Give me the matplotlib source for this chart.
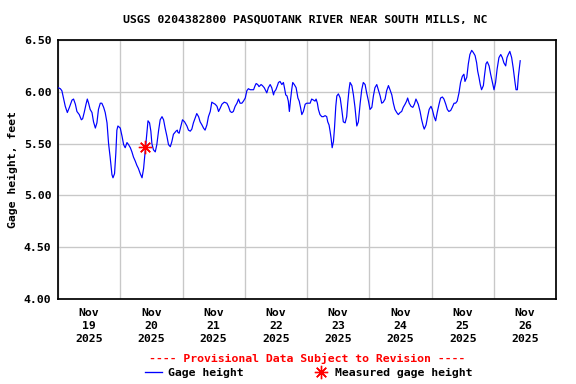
import datetime
import matplotlib
matplotlib.use('Agg')
import matplotlib.pyplot as plt
from matplotlib.lines import Line2D


START = datetime.datetime(2025, 11, 19)
TITLE = 'USGS 0204382800 PASQUOTANK RIVER NEAR SOUTH MILLS, NC'

# hours since Nov 19 00:00, gage height in feet
HOURS = [
    0.0, 0.9, 1.5, 2.2, 2.8, 3.6, 4.4, 5.4, 6.0, 6.7, 7.3, 8.2, 9.0, 9.5, 10.1,
    10.8, 11.3, 11.8, 12.4, 13.1, 13.7, 14.4, 15.0, 15.6, 16.3, 16.9, 17.6,
    18.2, 18.9, 19.5, 20.1, 20.8, 21.2, 21.8, 22.3, 22.7, 23.1, 24.0, 24.7,
    25.3, 25.9, 26.6, 27.2, 27.9, 28.5, 29.1, 29.8, 30.4, 31.0, 31.7, 32.4,
    33.0, 33.6, 34.3, 34.7, 35.3, 35.8, 36.2, 36.8, 37.5, 38.1, 38.8, 39.4,
    40.1, 40.7, 41.3, 42.0, 42.6, 43.3, 43.9, 44.5, 45.5, 46.0, 46.2, 46.7,
    47.5, 48.0, 48.8, 49.7, 50.3, 51.0, 51.6, 52.2, 52.9, 53.5, 54.2, 54.8,
    55.5, 56.1, 56.7, 57.4, 58.0, 58.7, 59.3, 59.9, 60.6, 61.3, 61.9, 62.5,
    63.2, 64.1, 65.1, 65.7, 66.4, 67.0, 67.6, 68.3, 69.0, 69.6, 70.2, 70.9,
    71.5, 72.2, 72.8, 73.4, 74.1, 74.7, 75.4, 76.0, 76.4, 77.0, 77.5, 78.3,
    78.8, 79.5, 80.1, 80.5, 81.1, 81.8, 82.4, 83.1, 83.4, 84.0, 84.6, 85.0,
    85.6, 86.3, 86.9, 87.3, 87.8, 88.3, 88.8, 89.2, 89.6, 90.1, 90.5, 91.1,
    91.8, 92.5, 93.0, 93.5, 94.0, 94.6, 95.3, 95.9, 96.5, 97.2, 97.8, 98.5,
    99.1, 99.5, 100.0, 100.4, 101.0, 101.7, 102.3, 103.0, 103.6, 104.0, 104.5,
    104.9, 105.3, 105.7, 106.2, 106.6, 107.1, 107.5, 108.1, 108.8, 109.4,
    110.0, 110.7, 111.3, 111.7, 112.2, 112.6, 113.3, 113.9, 114.5, 115.2,
    115.8, 116.5, 117.1, 117.7, 118.4, 119.0, 119.7, 120.3, 121.0, 121.6,
    122.2, 122.9, 123.5, 124.2, 124.8, 125.4, 126.1, 126.7, 127.4, 128.0,
    128.7, 129.3, 129.9, 130.6, 131.2, 131.9, 132.5, 133.1, 133.8, 134.4,
    134.8, 135.4, 136.1, 136.8, 137.4, 138.0, 138.9, 139.6, 140.2, 140.8,
    141.2, 141.9, 142.5, 143.1, 143.8, 144.3, 145.0, 145.6, 146.2, 146.9,
    147.5, 148.2, 148.8, 149.5, 150.1, 150.7, 151.4, 152.0, 152.7, 153.3,
    153.9, 154.6, 155.2, 155.9, 156.5, 156.9, 157.6, 158.2, 158.8, 159.5,
    160.1, 160.8, 161.4, 161.8, 162.3, 162.8, 163.3, 164.0, 164.4, 165.0,
    165.5, 166.2, 166.8, 167.4, 168.1, 168.7, 169.3, 170.0, 170.7, 171.3,
    171.9, 172.6, 173.1, 173.6, 174.2, 174.9, 175.5, 176.2, 176.6, 177.1,
    177.5, 178.2,
]
GAGE_FT = [
    6.04, 6.03, 6.01, 5.93, 5.86, 5.80, 5.85, 5.92, 5.93, 5.88, 5.81, 5.78,
    5.73, 5.74, 5.80, 5.88, 5.93, 5.89, 5.83, 5.80, 5.71, 5.65, 5.70, 5.83,
    5.89, 5.89, 5.85, 5.80, 5.70, 5.50, 5.37, 5.20, 5.17, 5.21, 5.41, 5.63,
    5.67, 5.65, 5.57, 5.49, 5.46, 5.51, 5.49, 5.46, 5.42, 5.37, 5.33, 5.29,
    5.26, 5.21, 5.17, 5.26, 5.42, 5.60, 5.72, 5.70, 5.62, 5.50, 5.44, 5.42,
    5.49, 5.63, 5.73, 5.76, 5.73, 5.65, 5.57, 5.49, 5.47, 5.52, 5.59, 5.62,
    5.63, 5.61, 5.60, 5.68, 5.73, 5.71, 5.67, 5.63, 5.62, 5.64, 5.70, 5.75,
    5.79, 5.76, 5.71, 5.68, 5.65, 5.63, 5.68, 5.76, 5.81, 5.90, 5.89, 5.88,
    5.86, 5.81, 5.84, 5.88, 5.90, 5.89, 5.86, 5.81, 5.80, 5.81, 5.86, 5.89,
    5.93, 5.89, 5.89, 5.91, 5.94, 6.01, 6.03, 6.02, 6.02, 6.02, 6.06, 6.08,
    6.07, 6.05, 6.07, 6.06, 6.04, 6.01, 5.99, 6.04, 6.07, 6.04, 5.97, 6.00,
    6.02, 6.06, 6.09, 6.10, 6.07, 6.09, 6.04, 5.97, 5.96, 5.91, 5.81, 5.91,
    6.02, 6.09, 6.07, 6.04, 5.94, 5.91, 5.85, 5.78, 5.81, 5.88, 5.89, 5.89,
    5.89, 5.93, 5.92, 5.91, 5.93, 5.89, 5.83, 5.78, 5.76, 5.76, 5.77, 5.76,
    5.71, 5.68, 5.62, 5.55, 5.46, 5.52, 5.65, 5.86, 5.96, 5.98, 5.94, 5.83,
    5.71, 5.70, 5.76, 5.89, 6.02, 6.09, 6.06, 5.97, 5.85, 5.67, 5.71, 5.89,
    6.02, 6.09, 6.07, 5.99, 5.91, 5.83, 5.85, 5.96, 6.04, 6.07, 6.02, 5.96,
    5.89, 5.90, 5.93, 6.01, 6.06, 6.02, 5.97, 5.89, 5.83, 5.80, 5.78, 5.80,
    5.81, 5.85, 5.88, 5.91, 5.94, 5.89, 5.86, 5.85, 5.88, 5.93, 5.88, 5.81,
    5.73, 5.67, 5.64, 5.68, 5.76, 5.83, 5.86, 5.83, 5.76, 5.72, 5.80, 5.88,
    5.94, 5.95, 5.93, 5.88, 5.83, 5.81, 5.82, 5.85, 5.89, 5.89, 5.91, 5.99,
    6.09, 6.15, 6.17, 6.10, 6.14, 6.27, 6.36, 6.40, 6.38, 6.35, 6.28, 6.20,
    6.14, 6.07, 6.02, 6.06, 6.15, 6.27, 6.29, 6.25, 6.17, 6.10, 6.02, 6.09,
    6.22, 6.33, 6.36, 6.33, 6.28, 6.25, 6.33, 6.36, 6.39, 6.33, 6.23, 6.09,
    6.02, 6.02, 6.15, 6.30,
]
MEAS_HOURS = [33.6]
MEAS_FT = [5.47]

Y_TICKS = [4.00, 4.50, 5.00, 5.50, 6.00, 6.50]
Y_LABELS = ['4.00', '4.50', '5.00', '5.50', '6.00', '6.50']
DAY_LABELS = ['Nov\n19\n2025', 'Nov\n20\n2025', 'Nov\n21\n2025', 'Nov\n22\n2025',
              'Nov\n23\n2025', 'Nov\n24\n2025', 'Nov\n25\n2025', 'Nov\n26\n2025']

FONT = 'DejaVu Sans Mono'
FS = 8.6


def main():
    plt.rcParams['font.family'] = FONT
    plt.rcParams['font.weight'] = 'bold'

    fig = plt.figure(figsize=(6.0, 4.0), dpi=96)
    ax = fig.add_axes([58 / 576, 1 - 299 / 384, 498 / 576, 259 / 384])

    times = [START + datetime.timedelta(hours=h) for h in HOURS]
    mtimes = [START + datetime.timedelta(hours=h) for h in MEAS_HOURS]

    ax.plot(times, GAGE_FT, color='#0000ff', linewidth=0.9, zorder=3)
    ax.plot(mtimes, MEAS_FT, linestyle='none', marker=(8, 2, 0),
            markersize=10, markeredgewidth=1.0, color='#ff0000', zorder=4)

    days = [START + datetime.timedelta(days=i) for i in range(9)]
    noons = [START + datetime.timedelta(days=i, hours=12) for i in range(8)]
    ax.set_xlim(days[0], days[-1])
    ax.set_xticks(days)
    ax.set_xticklabels([''] * len(days))
    ax.set_xticks(noons, minor=True)
    ax.set_xticklabels(DAY_LABELS, minor=True, fontsize=FS, fontweight='bold')
    for lab in ax.get_xticklabels(minor=True):
        lab.set_linespacing(1.38)
    ax.tick_params(axis='x', which='both', length=0)
    ax.tick_params(axis='x', which='minor', pad=7)

    ax.set_ylim(4.0, 6.5)
    ax.set_yticks(Y_TICKS)
    ax.set_yticklabels(Y_LABELS, fontsize=FS, fontweight='bold')
    ax.tick_params(axis='y', length=0, pad=5)

    ax.grid(True, which='major', color='#c8c8c8', linewidth=1.0)
    ax.set_axisbelow(True)
    for sp in ax.spines.values():
        sp.set_linewidth(1.3)
        sp.set_color('black')

    ax.set_ylabel('Gage height, feet', fontsize=FS, fontweight='bold', labelpad=4)
    fig.text(305 / 576, 1 - 20 / 384, TITLE, ha='center', va='center',
             fontsize=FS, fontweight='bold')
    fig.text(307 / 576, 1 - 358 / 384,
             '---- Provisional Data Subject to Revision ----',
             ha='center', va='center', fontsize=FS, fontweight='bold',
             color='#ff0000')

    handles = [
        Line2D([], [], color='#0000ff', linewidth=1.0),
        Line2D([], [], linestyle='none', marker=(8, 2, 0), markersize=10,
               markeredgewidth=1.0, color='#ff0000'),
    ]
    fig.legend(handles, ['Gage height', 'Measured gage height'],
               loc='center', bbox_to_anchor=(309 / 576, 1 - 373 / 384),
               ncol=2, frameon=False, handlelength=1.5,
               handletextpad=0.5, columnspacing=6.0, borderpad=0,
               prop={'family': FONT, 'weight': 'bold', 'size': FS})

    fig.savefig('out.png', dpi=96)
    plt.close(fig)


if __name__ == '__main__':
    main()
